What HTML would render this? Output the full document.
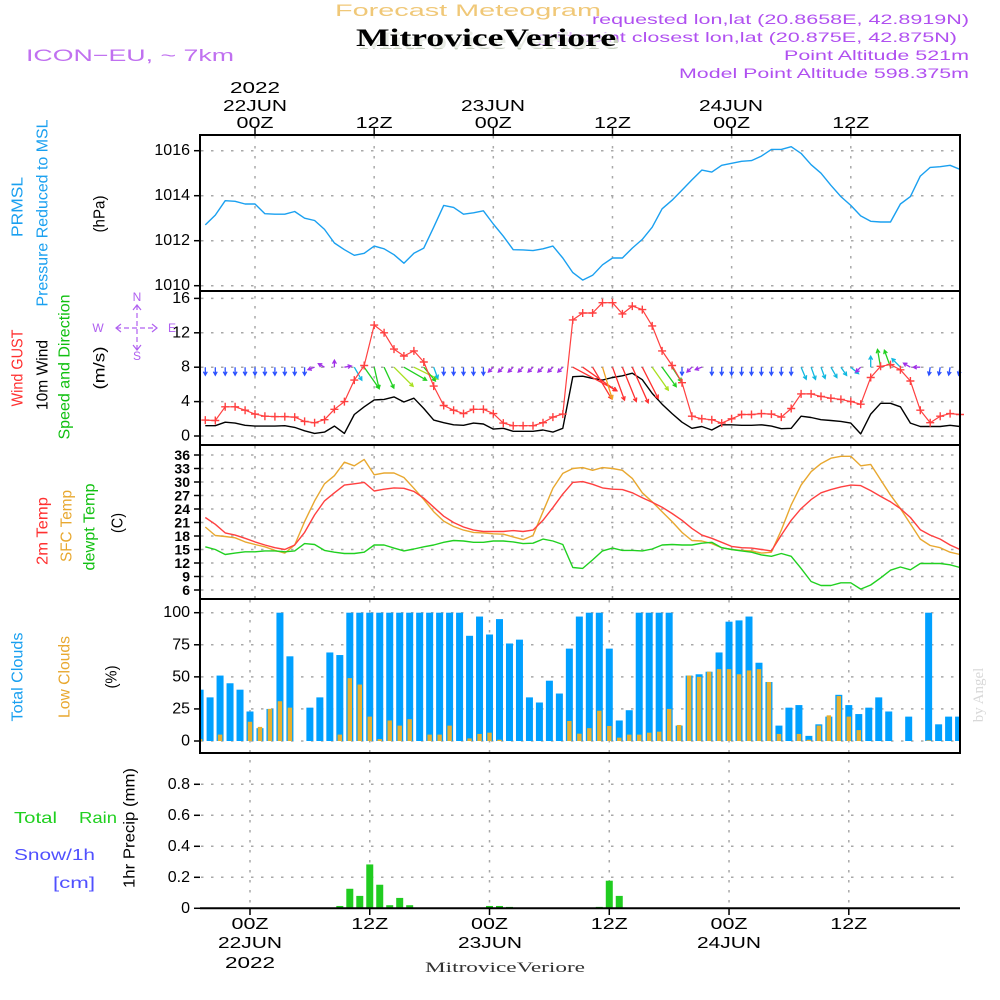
<!DOCTYPE html>
<html><head><meta charset="utf-8"><title>Forecast Meteogram MitroviceVeriore</title>
<style>
html,body{margin:0;padding:0;background:#fff;}
svg{display:block;font-family:"Liberation Sans",sans-serif;}
</style></head>
<body>
<svg id="chart" width="1000" height="1000" viewBox="0 0 1000 1000" xmlns="http://www.w3.org/2000/svg">
<rect x="0" y="0" width="1000" height="1000" fill="#fff"/>
<g id="grid"></g>
<g id="marks"></g>
<g id="frames" fill="none" stroke="#000" stroke-width="2">
  <rect x="200" y="135" width="760" height="156"/>
  <rect x="200" y="291" width="760" height="154"/>
  <rect x="200" y="445" width="760" height="154"/>
  <rect x="200" y="599" width="760" height="154"/>
  <line x1="200" y1="908.3" x2="960" y2="908.3"/>
</g>
<g id="ticks"></g>

<!-- header -->
<text x="468" y="16" fill="#f0c878" font-size="17" text-anchor="middle" textLength="266" lengthAdjust="spacingAndGlyphs">Forecast Meteogram</text>
<g fill="#b050f0" font-size="14" text-anchor="end">
  <text x="969" y="24" textLength="377" lengthAdjust="spacingAndGlyphs">requested lon,lat (20.8658E, 42.8919N)</text>
  <text x="957" y="42" textLength="420" lengthAdjust="spacingAndGlyphs">grid point closest lon,lat (20.875E, 42.875N)</text>
  <text x="969" y="60" textLength="185" lengthAdjust="spacingAndGlyphs">Point Altitude 521m</text>
  <text x="969" y="78" textLength="290" lengthAdjust="spacingAndGlyphs">Model Point Altitude 598.375m</text>
</g>
<text x="359" y="49" fill="#c8d0c0" font-family="Liberation Serif,serif" font-weight="bold" font-size="25" textLength="260" lengthAdjust="spacingAndGlyphs">MitroviceVeriore</text>
<rect x="356" y="28" width="258" height="20" fill="#fff" opacity="0.6"/>
<text x="356" y="46" fill="#000" font-family="Liberation Serif,serif" font-weight="bold" font-size="25" textLength="260" lengthAdjust="spacingAndGlyphs">MitroviceVeriore</text>
<text x="26" y="61" fill="#c070f0" font-size="17" textLength="208" lengthAdjust="spacingAndGlyphs">ICON−EU, ~ 7km</text>

<!-- top time axis labels -->
<g id="toplabels" font-size="16" fill="#000" text-anchor="middle">
  <text x="255" y="93" textLength="50" lengthAdjust="spacingAndGlyphs">2022</text>
  <text x="255" y="111" textLength="64" lengthAdjust="spacingAndGlyphs">22JUN</text>
  <text x="493" y="111" textLength="64" lengthAdjust="spacingAndGlyphs">23JUN</text>
  <text x="731" y="111" textLength="64" lengthAdjust="spacingAndGlyphs">24JUN</text>
</g>

<!-- left titles -->
<g font-size="16">
  <text transform="translate(18,207) rotate(-90)" text-anchor="middle" dominant-baseline="central" fill="#1aa0f0" textLength="60" lengthAdjust="spacingAndGlyphs">PRMSL</text>
  <text transform="translate(43,213) rotate(-90)" text-anchor="middle" dominant-baseline="central" fill="#1aa0f0" textLength="187" lengthAdjust="spacingAndGlyphs">Pressure Reduced to MSL</text>
  <text transform="translate(100,214) rotate(-90)" text-anchor="middle" dominant-baseline="central" fill="#000" textLength="37" lengthAdjust="spacingAndGlyphs">(hPa)</text>
  <text transform="translate(18,368) rotate(-90)" text-anchor="middle" dominant-baseline="central" fill="#ff3030" textLength="77" lengthAdjust="spacingAndGlyphs">Wind GUST</text>
  <text transform="translate(43,375) rotate(-90)" text-anchor="middle" dominant-baseline="central" fill="#000" textLength="70" lengthAdjust="spacingAndGlyphs">10m Wind</text>
  <text transform="translate(65,367) rotate(-90)" text-anchor="middle" dominant-baseline="central" fill="#10c010" textLength="145" lengthAdjust="spacingAndGlyphs">Speed and Direction</text>
  <text transform="translate(100,368) rotate(-90)" text-anchor="middle" dominant-baseline="central" fill="#000" textLength="43" lengthAdjust="spacingAndGlyphs">(m/s)</text>
  <text transform="translate(43,531) rotate(-90)" text-anchor="middle" dominant-baseline="central" fill="#ff3030" textLength="68" lengthAdjust="spacingAndGlyphs">2m Temp</text>
  <text transform="translate(67,526) rotate(-90)" text-anchor="middle" dominant-baseline="central" fill="#e8a830" textLength="72" lengthAdjust="spacingAndGlyphs">SFC Temp</text>
  <text transform="translate(90,527) rotate(-90)" text-anchor="middle" dominant-baseline="central" fill="#10c010" textLength="87" lengthAdjust="spacingAndGlyphs">dewpt Temp</text>
  <text transform="translate(118,523) rotate(-90)" text-anchor="middle" dominant-baseline="central" fill="#000" textLength="20" lengthAdjust="spacingAndGlyphs">(C)</text>
  <text transform="translate(18,677) rotate(-90)" text-anchor="middle" dominant-baseline="central" fill="#1aa0f0" textLength="89" lengthAdjust="spacingAndGlyphs">Total Clouds</text>
  <text transform="translate(65,677) rotate(-90)" text-anchor="middle" dominant-baseline="central" fill="#e8a830" textLength="82" lengthAdjust="spacingAndGlyphs">Low Clouds</text>
  <text transform="translate(112,677) rotate(-90)" text-anchor="middle" dominant-baseline="central" fill="#000" textLength="23" lengthAdjust="spacingAndGlyphs">(%)</text>
  <text transform="translate(130,828) rotate(-90)" text-anchor="middle" dominant-baseline="central" fill="#000" textLength="120" lengthAdjust="spacingAndGlyphs">1hr Precip (mm)</text>
  <text x="14" y="823" fill="#20d020" textLength="43" lengthAdjust="spacingAndGlyphs">Total</text>
  <text x="79" y="823" fill="#20d020" textLength="38" lengthAdjust="spacingAndGlyphs">Rain</text>
  <text x="14" y="860" fill="#5050ff" textLength="81" lengthAdjust="spacingAndGlyphs">Snow/1h</text>
  <text x="53" y="888" fill="#5050ff" textLength="42" lengthAdjust="spacingAndGlyphs">[cm]</text>
</g>

<!-- compass -->
<g fill="#b060f0" stroke="none" font-size="12" text-anchor="middle">
  <text x="137" y="301">N</text>
  <text x="137" y="360">S</text>
  <text x="98" y="332">W</text>
  <text x="172" y="332">E</text>
  <g stroke="#b060f0" stroke-width="1.2" fill="none">
    <path d="M116 328 H157 M137 305 V350" stroke-dasharray="5,3"/>
    <path d="M121 324 L116 328 L121 332 M152 324 L157 328 L152 332 M133 310 L137 305 L141 310 M133 345 L137 350 L141 345"/>
  </g>
</g>

<!-- bottom labels -->
<g font-size="16" fill="#000" text-anchor="middle">
  <text x="250" y="948" textLength="64" lengthAdjust="spacingAndGlyphs">22JUN</text>
  <text x="250" y="968" textLength="50" lengthAdjust="spacingAndGlyphs">2022</text>
  <text x="490" y="948" textLength="64" lengthAdjust="spacingAndGlyphs">23JUN</text>
  <text x="729" y="948" textLength="64" lengthAdjust="spacingAndGlyphs">24JUN</text>
</g>
<text x="505" y="972" font-family="Liberation Serif,serif" font-size="15" fill="#333" text-anchor="middle" textLength="160" lengthAdjust="spacingAndGlyphs">MitroviceVeriore</text>
<text transform="translate(983,695) rotate(-90)" font-family="Liberation Serif,serif" font-size="15" fill="#d8d8d8" text-anchor="middle">by Angel</text>

<script>
const startHour = -5;
const pressure = [1012.7,1013.14,1013.78,1013.75,1013.63,1013.63,1013.2,1013.18,1013.18,1013.3,1013.0,1012.9,1012.5,1011.9,1011.6,1011.35,1011.44,1011.76,1011.64,1011.38,1011.0,1011.44,1011.67,1012.6,1013.57,1013.48,1013.18,1013.24,1013.33,1012.74,1012.2,1011.6,1011.59,1011.56,1011.64,1011.76,1011.23,1010.58,1010.25,1010.46,1010.93,1011.23,1011.23,1011.67,1012.06,1012.6,1013.42,1013.8,1014.25,1014.7,1015.14,1015.05,1015.35,1015.44,1015.53,1015.56,1015.76,1016.06,1016.06,1016.18,1015.88,1015.38,1015.0,1014.46,1013.96,1013.57,1013.1,1012.86,1012.83,1012.83,1013.63,1013.96,1014.87,1015.26,1015.29,1015.35,1015.17];
const gust = [1.85,1.8,3.4,3.4,3.0,2.55,2.3,2.25,2.25,2.2,1.7,1.55,1.9,3.1,4.0,6.5,8.2,12.9,12.0,10.1,9.3,9.9,8.6,5.8,3.55,3.0,2.6,3.1,3.1,2.6,1.5,1.2,1.2,1.2,1.55,2.2,2.55,13.5,14.3,14.3,15.5,15.5,14.2,15.1,14.7,12.8,9.9,8.2,6.2,2.3,2.0,1.9,1.5,2.0,2.5,2.5,2.6,2.55,2.2,3.2,4.9,4.9,4.6,4.4,4.25,4.0,3.7,6.8,8.1,8.3,7.7,6.4,3.0,1.55,2.3,2.6,2.5];
const wind10m = [1.2,1.2,1.6,1.5,1.25,1.15,1.15,1.15,1.2,1.0,0.6,0.3,0.45,1.15,0.3,2.5,3.4,4.2,4.25,4.55,3.95,4.4,3.2,1.85,1.55,1.3,1.25,1.5,1.4,0.8,0.9,0.55,0.55,0.55,0.7,0.45,0.9,6.9,6.95,6.7,6.5,6.8,7.0,7.3,6.55,4.95,3.7,2.6,1.6,0.9,1.1,0.7,1.3,1.3,1.25,1.25,1.3,1.15,0.85,0.9,2.3,2.15,1.9,1.8,1.7,1.5,0.25,2.55,3.8,3.8,3.4,1.5,1.1,1.1,1.1,1.25,1.1];
const windDir = [180,180,180,180,180,180,180,180,180,180,180,250,300,0,80,150,145,167,155,135,120,116,140,160,180,180,180,180,180,225,225,225,225,225,225,225,225,118,125,149,163,160,158,156,153,145,144,147,180,225,250,180,180,180,180,180,180,180,180,180,157,160,160,150,145,130,225,0,350,340,315,300,270,190,190,190,190];
const windLen = [8,8,8,8,8,8,8,8,8,8,8,7,7,7,7,15,26,22,23,27,26,27,18,12,8,8,8,8,8,7,7,7,7,7,7,7,7,50,41,37,33,35,37,39,35,28,24,17,8,7,7,8,8,8,8,8,8,8,8,8,13,13,12,12,10,10,7,11,18,18,12,8,7,8,8,8,8];
const t2m = [22.1,20.6,18.7,18.2,17.5,16.7,16.0,15.4,15.0,16.0,18.8,22.7,25.8,27.6,29.3,29.6,29.9,28.0,28.4,28.7,28.6,27.9,26.4,24.4,22.4,21.0,20.0,19.3,19.0,19.0,19.0,19.2,19.0,19.3,21.5,24.3,27.3,29.9,30.1,29.5,28.7,28.4,28.3,27.6,26.5,25.5,24.4,23.0,21.5,19.7,18.2,17.5,16.6,15.7,15.4,15.3,15.0,14.7,18.2,21.5,24.1,26.1,27.6,28.3,28.9,29.3,29.2,28.1,26.8,25.6,24.1,22.1,19.4,18.2,17.3,16.0,15.0];
const tsfc = [20.0,18.1,17.9,17.6,16.7,16.1,15.6,14.8,14.2,16.0,21.2,25.8,29.6,31.4,34.4,33.6,35.0,31.6,32.0,32.0,31.0,28.6,26.1,23.4,21.3,20.1,19.3,18.8,18.7,18.5,18.4,17.8,17.2,18.1,23.4,28.6,31.9,33.0,33.2,32.6,33.2,33.0,32.6,30.8,27.6,25.6,23.4,21.2,18.8,17.0,16.9,16.3,15.4,15.0,14.8,14.7,14.2,14.4,19.3,24.9,29.3,32.3,34.1,35.3,35.7,35.7,33.6,33.9,30.5,27.1,24.1,20.7,17.3,15.9,15.4,14.4,13.9];
const dewpt = [15.6,15.0,13.9,14.2,14.5,14.5,14.7,14.7,14.5,14.7,16.3,16.1,14.8,14.4,14.1,14.1,14.4,16.0,16.0,15.3,14.7,15.1,15.6,16.0,16.6,17.0,16.9,16.6,16.6,16.9,16.9,16.7,16.3,16.4,17.3,16.9,16.1,11.0,10.8,12.7,14.7,15.3,14.8,14.8,14.7,15.1,16.0,16.1,16.0,16.0,16.4,16.6,15.4,15.0,14.7,14.4,13.8,13.5,14.1,13.5,10.8,7.9,7.0,7.0,7.6,7.6,6.2,7.1,8.7,10.4,11.1,10.5,11.9,11.9,11.9,11.6,11.0];
const totalClouds = [40,34,51,45,40,23,10,25,100,66,0,26,34,69,67,100,100,100,100,100,100,100,100,100,100,100,100,82,97,83,95,76,79,34,30,47,37,72,97,100,100,72,16,24,100,100,100,100,12,51,52,54,69,93,94,97,61,46,12,26,28,4,13,19,36,28,21,26,34,23,0,19,0,100,13,19,19];
const lowClouds = [1.5,0,5,0,0,15,11,25,31,26,0,0,0,0,5,49,44,19,1.5,16,12,17,0,5,5,12,0,2,5.5,6.5,1,0,0,0,0,0,0,15.6,5.7,10,23.6,11.7,2.6,5,5,6.5,7.3,25,12.5,51,50,54,56,56,52,55,56,46,5.5,0,5.5,1,12,20,35,19,8.5,0,0,0,0,0,0,0.5,0,0,0];
const precip = [0,0,0,0,0,0,0,0,0,0,0,0,0,0.003,0.015,0.126,0.08,0.283,0.152,0.02,0.067,0.02,0,0,0,0,0,0,0,0.015,0.015,0.009,0,0,0,0,0,0,0,0,0.009,0.178,0.08,0,0,0,0,0,0,0,0,0,0,0,0,0,0,0,0,0,0,0,0,0,0,0,0,0,0,0,0,0,0,0,0,0,0];
const pressureTicks = [1010,1012,1014,1016];
const windTicks = [0,4,8,12,16];
const tempTicks = [6,9,12,15,18,21,24,27,30,33,36];
const cloudTicks = [0,25,50,75,100];
const precipTicks = [0,0.2,0.4,0.6,0.8];
const timeTickHours = [0,12,24,36,48,60];
const timeTickLabels = ["00Z","12Z","00Z","12Z","00Z","12Z"];

const X = h => 255 + 9.93*h;
const Xc = h => 250 + 9.98*h;
const yP = p => 150.7 + (1016-p)*22.5;
const yW = v => 436 - v*8.6;
const yT = t => 455 + (36-t)*4.5;
const yC = c => 741 - c*1.283;
const yR = r => 908.3 - r*155;

const NS = "http://www.w3.org/2000/svg";
const grid = document.getElementById('grid');
const marks = document.getElementById('marks');
const ticks = document.getElementById('ticks');
function mk(tag, attrs, parent){
  const el = document.createElementNS(NS, tag);
  for (const k in attrs) el.setAttribute(k, attrs[k]);
  parent.appendChild(el);
  return el;
}
const hourOf = i => startHour + i;
const GRID = {stroke:'#a8a8a8','stroke-width':1.5,'stroke-dasharray':'2.5,7.5'};

// horizontal grids + y tick labels
function hgrid(vals, yf, labelFn, name, fs, bold){
  vals.forEach(v => {
    const y = yf(v);
    const g = mk('line', Object.assign({x1:201,x2:959,y1:y,y2:y}, GRID), grid);
    
    
    const t = mk('line', {x1:194,x2:200,y1:y,y2:y,stroke:'#000','stroke-width':1.5}, ticks);
    
    
    const tx = mk('text', {x:190,y:y,'text-anchor':'end','dominant-baseline':'central','font-size':fs,'font-weight':bold?'bold':'normal',fill:'#000'}, ticks);
    tx.textContent = labelFn(v);
    
    
  });
}
hgrid(pressureTicks, yP, v => String(v), 'pressure-y', 16, false);
hgrid(windTicks, yW, v => String(v), 'wind-y', 16, false);
hgrid(tempTicks, yT, v => String(v), 'temp-y', 14, true);
hgrid(cloudTicks, yC, v => String(v), 'cloud-y', 16, false);
hgrid(precipTicks, yR, v => v === 0 ? '0' : v.toFixed(1), 'precip-y', 16, false);

// vertical grids
timeTickHours.forEach((h, k) => {
  const x = X(h);
  const v = mk('line', Object.assign({x1:x,x2:x,y1:136,y2:598}, GRID), grid);
  
  
  const xc = Xc(h);
  const v2 = mk('line', Object.assign({x1:xc,x2:xc,y1:600,y2:907}, GRID), grid);
  
  
  const t = mk('line', {x1:x,x2:x,y1:128,y2:135,stroke:'#000','stroke-width':1.5}, ticks);
  
  
  const tb = mk('line', {x1:xc,x2:xc,y1:908,y2:915,stroke:'#000','stroke-width':1.5}, ticks);
  
  
  const lt = mk('text', {x:x,y:128,'text-anchor':'middle','font-size':16,textLength:37,lengthAdjust:'spacingAndGlyphs'}, ticks);
  lt.textContent = timeTickLabels[k];
  
  
  const lb = mk('text', {x:xc,y:929,'text-anchor':'middle','font-size':16,textLength:37,lengthAdjust:'spacingAndGlyphs'}, ticks);
  lb.textContent = timeTickLabels[k];
  
  
});

// lines
function line(arr, yf, color, name, w){
  const pts = arr.map((v,i) => X(hourOf(i)).toFixed(1) + ',' + yf(v).toFixed(1)).join(' ');
  const pl = mk('polyline', {points:pts, fill:'none', stroke:color, 'stroke-width':w||1.3, 'stroke-linejoin':'round'}, marks);
  
  
}

// clouds
const BW = 7;
totalClouds.forEach((v,i) => {
  const x = Xc(hourOf(i));
  const x0 = Math.max(201, x - BW/2), x1 = Math.min(959, x + BW/2);
  if (x1 <= x0 || v <= 0) return;
  const r = mk('rect', {x:x0, y:yC(v), width:x1-x0, height:yC(0)-yC(v), fill:'#00a0ff'}, marks);
  
  
});
lowClouds.forEach((v,i) => {
  const x = Xc(hourOf(i));
  const x0 = Math.max(201, x - 2.2), x1 = Math.min(959, x + 2.2);
  if (x1 <= x0 || v <= 0) return;
  const r = mk('rect', {x:x0, y:yC(v), width:x1-x0, height:yC(0)-yC(v), fill:'#e8b030'}, marks);
  
  
});
// precip
precip.forEach((v,i) => {
  if (v <= 0) return;
  const x = Xc(hourOf(i));
  const r = mk('rect', {x:x-BW/2, y:yR(v), width:BW, height:yR(0)-yR(v), fill:'#20cc20'}, marks);
  
  
});

line(pressure, yP, '#1aa0f0', 'pressure-line', 1.4);
line(tsfc, yT, '#e8a830', 'sfc-temp-line', 1.4);
line(t2m, yT, '#ff4040', 't2m-line', 1.4);
line(dewpt, yT, '#20d020', 'dewpt-line', 1.4);
line(wind10m, yW, '#000', 'wind-speed-line', 1.4);

// wind arrows
function arrowColor(len, dir){
  if (len < 10) return (dir >= 150 && dir <= 210) ? '#2a50ff' : '#a030e8';
  if (len < 17) return '#10b8e0';
  if (len < 27) return '#20d020';
  if (len < 30) return '#a8e020';
  if (len < 35) return '#f0a020';
  return '#ff3030';
}
const y8 = yW(8);
windDir.forEach((d,i) => {
  const x = X(hourOf(i));
  const L = windLen[i];
  const a = d * Math.PI/180;
  const ex = x + L*Math.sin(a), ey = y8 - L*Math.cos(a);
  const hx = 4, ang = Math.atan2(ey - y8, ex - x);
  const c = arrowColor(L, d);
  const p1x = ex - hx*Math.cos(ang - 0.5), p1y = ey - hx*Math.sin(ang - 0.5);
  const p2x = ex - hx*Math.cos(ang + 0.5), p2y = ey - hx*Math.sin(ang + 0.5);
  const p = mk('path', {d:`M${x.toFixed(1)} ${y8.toFixed(1)} L${ex.toFixed(1)} ${ey.toFixed(1)} M${p1x.toFixed(1)} ${p1y.toFixed(1)} L${ex.toFixed(1)} ${ey.toFixed(1)} L${p2x.toFixed(1)} ${p2y.toFixed(1)}`, stroke:c, 'stroke-width':1.3, fill:'none'}, marks);
  
  
});

// gust line + markers
line(gust, yW, '#ff4040', 'gust-line', 1.2);
gust.forEach((v,i) => {
  const x = X(hourOf(i)), y = yW(v);
  const m = mk('path', {d:`M${(x-4).toFixed(1)} ${y.toFixed(1)} H${(x+4).toFixed(1)} M${x.toFixed(1)} ${(y-4).toFixed(1)} V${(y+4).toFixed(1)}`, stroke:'#ff4040','stroke-width':1.4}, marks);
  
  
});
</script>
</svg>
</body></html>
